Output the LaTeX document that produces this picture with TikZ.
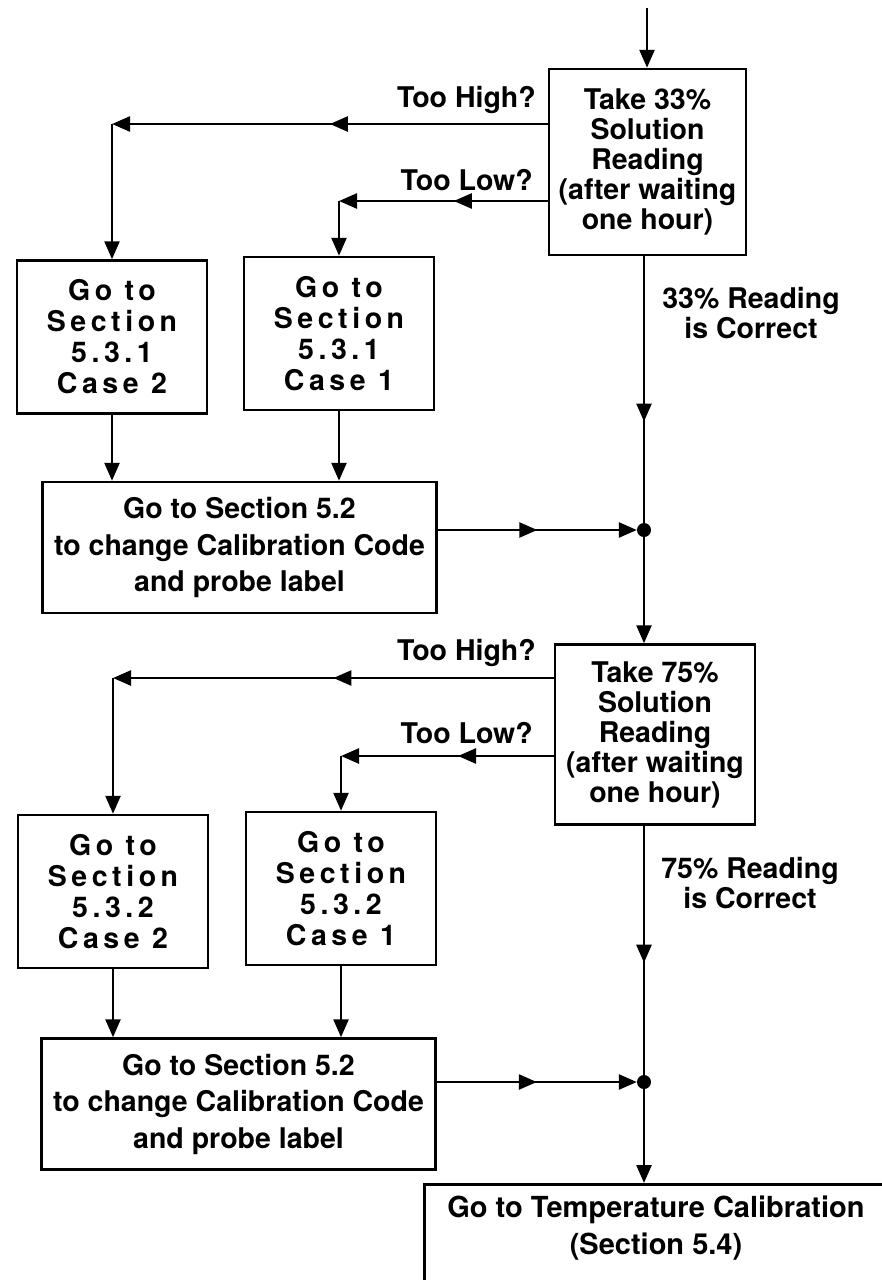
\documentclass[tikz,border=0pt]{standalone}
\usepackage{fontspec}
\setmainfont{TeX Gyre Heros}
\newfontfamily\trackedfont[LetterSpace=16]{TeX Gyre Heros}
\usetikzlibrary{arrows.meta,decorations.markings,positioning}

\tikzset{
  flowline/.style={line width=2.5pt},
  midarrow/.style={postaction={decorate},
    decoration={markings, mark=at position #1 with {\arrow{>}}}},
  midarrow/.default=0.5,
  stepbox/.style={draw, line width=2.5pt, align=center, inner sep=0pt,
    font=\bfseries\fontsize{28.5}{30}\selectfont},
  casebox/.style={stepbox, minimum width=190pt, minimum height=153pt,
    font=\trackedfont\bfseries\fontsize{28.5}{31}\selectfont},
  codebox/.style={stepbox, minimum width=394pt, minimum height=131pt,
    font=\bfseries\fontsize{28.5}{36.5}\selectfont},
  lab/.style={align=center, inner sep=0pt,
    font=\bfseries\fontsize{28.5}{30}\selectfont},
  dot/.style={circle, fill, inner sep=0pt, minimum size=14pt}
}

\begin{document}
\begin{tikzpicture}[x=1pt,y=-1pt,>={Triangle[length=18pt,width=15pt]}]
    \useasboundingbox (0,0) rectangle (882,1280);
    \clip (0,0) rectangle (882,1280);

    % 33% solution
    \coordinate (start) at (647,8);
    \node[stepbox, minimum width=197pt, minimum height=186pt] (take33)
        at (647.5,162) {Take 33\%\\Solution\\Reading\\(after waiting\\one hour)};
    \draw[flowline,->] (start) -- (start |- take33.north);

    \node[lab, anchor=east] (high33) at (536,100) {Too High?};
    \node[lab, anchor=east] (low33) at (533,180) {Too Low?};
    \coordinate (hi33) at (112,124);
    \coordinate (lo33) at (339,201);

    \node[casebox] (case2a) at (112,337) {Go to\\Section\\5.3.1\\Case 2};
    \node[casebox] (case1a) at (339,333.5) {Go to\\Section\\5.3.1\\Case 1};
    \node[codebox] (code33) at (239.5,547.5)
        {Go to Section 5.2\\to change Calibration Code\\and probe label};

    \draw[flowline,midarrow,->] (take33.west |- hi33) -- (hi33);
    \draw[flowline,->] (hi33) -- (case2a);
    \draw[flowline,midarrow=0.45,->] (take33.west |- lo33) -- (lo33);
    \draw[flowline,->] (lo33) -- (case1a);
    \draw[flowline,->] (case2a.south) -- (case2a.south |- code33.north);
    \draw[flowline,->] (case1a.south) -- (case1a.south |- code33.north);

    \node[lab] (ok33) at (751,313) {33\% Reading\\is Correct};
    \node[dot] (join33) at (644,530) {};
    \draw[flowline,midarrow=0.62] (take33.south -| join33) -- (join33);
    \draw[flowline,midarrow,->] (code33.east |- join33) -- (join33);

    % 75% solution
    \node[stepbox, minimum width=200pt, minimum height=180pt] (take75)
        at (655,734.5) {Take 75\%\\Solution\\Reading\\(after waiting\\one hour)};
    \draw[flowline,->] (join33) -- (join33 |- take75.north);

    \node[lab, anchor=east] (high75) at (536,653) {Too High?};
    \node[lab, anchor=east] (low75) at (533,733) {Too Low?};
    \coordinate (hi75) at (113,678);
    \coordinate (lo75) at (341,756);

    \node[casebox] (case2b) at (113,891.5) {Go to\\Section\\5.3.2\\Case 2};
    \node[casebox] (case1b) at (341,888.5) {Go to\\Section\\5.3.2\\Case 1};
    \node[codebox] (code75) at (238.5,1104)
        {Go to Section 5.2\\to change Calibration Code\\and probe label};

    \draw[flowline,midarrow,->] (take75.west |- hi75) -- (hi75);
    \draw[flowline,->] (hi75) -- (case2b);
    \draw[flowline,midarrow=0.45,->] (take75.west |- lo75) -- (lo75);
    \draw[flowline,->] (lo75) -- (case1b);
    \draw[flowline,->] (case2b.south) -- (case2b.south |- code75.north);
    \draw[flowline,->] (case1b.south) -- (case1b.south |- code75.north);

    \node[lab] (ok75) at (750,883) {75\% Reading\\is Correct};
    \node[dot] (join75) at (644,1082) {};
    \draw[flowline,midarrow=0.55] (take75.south -| join75) -- (join75);
    \draw[flowline,midarrow,->] (code75.east |- join75) -- (join75);

    % temperature calibration
    \node[draw, line width=2.5pt, minimum width=466pt, minimum height=160pt,
        anchor=north west] (tempcal) at (423,1183) {};
    \node[lab, font=\bfseries\fontsize{29}{37}\selectfont] (templab)
        at (656,1228) {Go to Temperature Calibration\\(Section 5.4)};
    \draw[flowline,->] (join75) -- (join75 |- tempcal.north);

\end{tikzpicture}
\end{document}
